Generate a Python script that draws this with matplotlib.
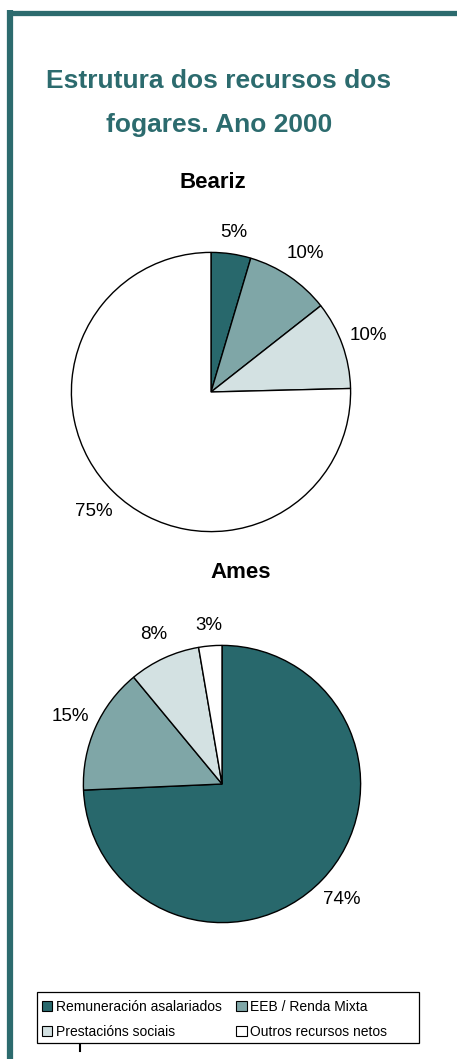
import matplotlib
matplotlib.use("Agg")
import numpy as np
import matplotlib.pyplot as plt
from matplotlib.patches import Patch, Rectangle
from matplotlib.lines import Line2D

plt.rcParams['font.family'] = ['Liberation Sans', 'DejaVu Sans']

title = "Estrutura dos recursos dos\nfogares. Ano 2000"
categories = ["Remuneración asalariados", "EEB / Renda Mixta",
              "Prestacións sociais", "Outros recursos netos"]
beariz_values = [4.6, 9.8, 10.2, 75.4]
beariz_labels = ["5%", "10%", "10%", "75%"]
ames_values = [74.3, 14.7, 8.3, 2.7]
ames_labels = ["74%", "15%", "8%", "3%"]
colors = ["#28686C", "#7FA6A7", "#D3E1E2", "#FFFFFF"]
teal = "#2C6B6E"

W, H = 457, 1059
fig = plt.figure(figsize=(W / 100, H / 100), dpi=100)

# frame lines
fig.add_artist(Line2D([10 / W, 10 / W], [0, 1 - 10 / H], color=teal, lw=4.5,
                      transform=fig.transFigure, solid_capstyle='butt'))
fig.add_artist(Line2D([7.5 / W, 1], [1 - 12.5 / H, 1 - 12.5 / H], color=teal, lw=3.8,
                      transform=fig.transFigure, solid_capstyle='butt'))

fig.text(219 / W, 1 - 103 / H, title, ha='center', va='center', color=teal,
         fontsize=19, fontweight='bold', linespacing=2.08)


def draw_pie(cx, cy, r, values, labels):
    ax = fig.add_axes([(cx - r) / W, 1 - (cy + r) / H, 2 * r / W, 2 * r / H])
    wedges, texts = ax.pie(values, labels=labels, colors=colors, startangle=90,
                           counterclock=False, labeldistance=1.2,
                           wedgeprops=dict(edgecolor='black', linewidth=1.0),
                           textprops=dict(fontsize=13.5, color='black'))
    for w, t in zip(wedges, texts):
        th = np.deg2rad((w.theta1 + w.theta2) / 2)
        d = 1.135 + 0.065 * min(1.0, abs(np.cos(th)) * 2)
        t.set_position((d * np.cos(th), d * np.sin(th)))
        t.set_ha('center')
        t.set_va('center')
    ax.set_aspect('equal')
    ax.set_xlim(-1.01, 1.01)
    ax.set_ylim(-1.01, 1.01)
    return ax


fig.text(213 / W, 1 - 182 / H, "Beariz", ha='center', va='center',
         fontsize=16, fontweight='bold')
draw_pie(211, 392, 141, beariz_values, beariz_labels)

fig.text(241 / W, 1 - 573 / H, "Ames", ha='center', va='center',
         fontsize=16, fontweight='bold')
draw_pie(222, 784, 140, ames_values, ames_labels)

# legend frame
fig.add_artist(Rectangle((37 / W, 1 - 1043 / H), (419 - 37) / W, (1043 - 992) / H,
                         transform=fig.transFigure, facecolor='white',
                         edgecolor='black', linewidth=0.9))
order = [0, 2, 1, 3]
handles = [Patch(facecolor=colors[i], edgecolor='black', linewidth=0.8) for i in order]
leg = fig.legend(handles, [categories[i] for i in order], ncol=2, loc='upper left',
                 bbox_to_anchor=(37 / W, 1 - 995 / H),
                 fontsize=10, frameon=False,
                 handlelength=0.75, handleheight=0.75,
                 handletextpad=0.25, columnspacing=1.05, borderpad=0.35,
                 labelspacing=0.8, borderaxespad=0)

fig.add_artist(Line2D([80 / W, 80 / W], [1 - 1051 / H, 1 - 1045 / H], color='black',
                      lw=1.5, transform=fig.transFigure))

fig.savefig("out.png", dpi=100)
